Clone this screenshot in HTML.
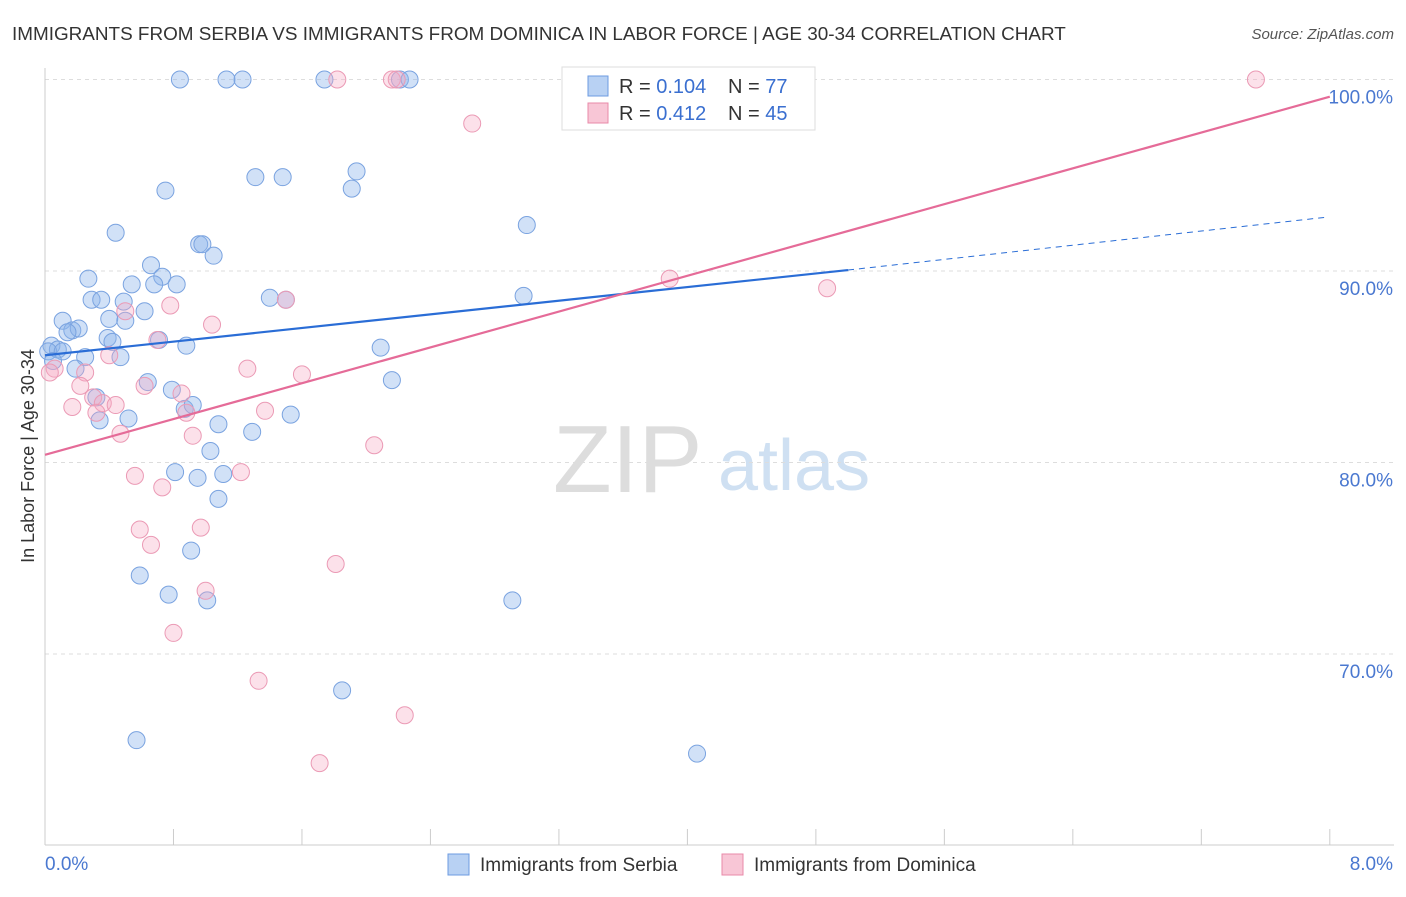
<!DOCTYPE html>
<html><head><meta charset="utf-8">
<style>
body{margin:0;background:#fff;font-family:"Liberation Sans",sans-serif;}
svg text{font-family:"Liberation Sans",sans-serif;}
</style></head>
<body>
<svg id="chart" width="1406" height="892" viewBox="0 0 1406 892">
<text x="12" y="40" font-size="18.9" fill="#333">IMMIGRANTS FROM SERBIA VS IMMIGRANTS FROM DOMINICA IN LABOR FORCE | AGE 30-34 CORRELATION CHART</text>
<text x="1394" y="39" font-size="15" fill="#555" font-style="italic" text-anchor="end">Source: ZipAtlas.com</text>
<g>
<text x="553" y="492" font-size="96" fill="#ddd" font-family="Liberation Serif">ZIP</text>
<text x="718" y="490" font-size="72" fill="#cfe0f2">atlas</text>
</g>
<g id="grid"></g>
<g id="axes"></g>
<g id="pts"></g>
<g id="trend"></g>
<text transform="translate(34,456) rotate(-90)" font-size="18" fill="#333" text-anchor="middle">In Labor Force | Age 30-34</text>
<g>
<rect x="562" y="67" width="253" height="63" fill="#fff" stroke="#ddd"/>
<rect x="588" y="76" width="20" height="20" fill="#b8d1f3" stroke="#6d9be0"/>
<rect x="588" y="103" width="20" height="20" fill="#f8c6d6" stroke="#e88aa8"/>
<text x="619" y="93" font-size="20" fill="#333">R = <tspan fill="#3a6fd0">0.104</tspan></text>
<text x="728" y="93" font-size="20" fill="#333">N = <tspan fill="#3a6fd0">77</tspan></text>
<text x="619" y="120" font-size="20" fill="#333">R = <tspan fill="#3a6fd0">0.412</tspan></text>
<text x="728" y="120" font-size="20" fill="#333">N = <tspan fill="#3a6fd0">45</tspan></text>
</g>
<g>
<rect x="448" y="854" width="21" height="21" fill="#b8d1f3" stroke="#6d9be0"/>
<text x="480" y="871" font-size="19" fill="#333">Immigrants from Serbia</text>
<rect x="722" y="854" width="21" height="21" fill="#f8c6d6" stroke="#e88aa8"/>
<text x="754" y="871" font-size="19" fill="#333">Immigrants from Dominica</text>
</g>
</svg>
<script>
const serbiaX=[0.84,1.13,1.23,1.74,2.21,2.27,3.63,3.58,0.75,1.31,1.48,1.94,1.91,0.44,3.00,0.96,0.98,1.05,0.66,0.73,0.27,0.54,0.68,0.82,0.29,0.35,0.49,0.62,0.40,0.50,1.40,1.50,2.98,0.11,0.17,0.21,0.14,0.39,0.42,0.71,0.88,2.09,0.04,0.08,0.02,0.11,0.25,0.47,0.05,0.19,0.64,0.79,2.16,0.32,0.87,0.92,1.08,1.53,0.34,0.52,1.29,1.03,0.81,0.95,1.11,1.08,0.91,0.59,0.77,1.01,2.91,1.85,0.57,4.06];
const serbiaY=[100,100,100,100,100,100,99.9,98.9,94.2,94.9,94.9,95.2,94.3,92.0,92.4,91.4,91.4,90.8,90.3,89.7,89.6,89.3,89.3,89.3,88.5,88.5,88.4,87.9,87.5,87.4,88.6,88.5,88.7,87.4,86.9,87.0,86.8,86.5,86.3,86.4,86.1,86.0,86.1,85.9,85.8,85.8,85.5,85.5,85.3,84.9,84.2,83.8,84.3,83.4,82.8,83.0,82.0,82.5,82.2,82.3,81.6,80.6,79.5,79.2,79.4,78.1,75.4,74.1,73.1,72.8,72.8,68.1,65.5,64.8];
const dominicaX=[1.82,2.16,2.19,4.18,7.54,2.66,3.89,4.87,1.50,0.78,0.50,0.70,1.04,0.40,0.06,0.03,0.25,0.22,0.62,0.85,1.26,1.60,0.30,0.36,0.44,0.17,0.32,0.88,1.37,0.47,0.92,2.05,0.56,1.22,0.73,0.59,0.66,0.97,1.81,1.00,0.80,1.33,2.24,1.71];
const dominicaY=[100,100,100,100,100,97.7,89.6,89.1,88.5,88.2,87.9,86.4,87.2,85.6,84.9,84.7,84.7,84.0,84.0,83.6,84.9,84.6,83.4,83.1,83.0,82.9,82.6,82.6,82.7,81.5,81.4,80.9,79.3,79.5,78.7,76.5,75.7,76.6,74.7,73.3,71.1,68.6,66.8,64.3];
const serbiaTrend=[[0,85.6],[5.0,90.05],[7.97,92.8]];
const dominicaTrend=[[0,80.4],[8,99.1]];
const yTicks=[100,90,80,70];
const yTickLabels=["100.0%","90.0%","80.0%","70.0%"];
const xTickVals=[0,0.8,1.6,2.4,3.2,4.0,4.8,5.6,6.4,7.2,8.0];

const NS="http://www.w3.org/2000/svg";
const sx=v=>45+v*160.6;
const sy=v=>79.5+(100-v)*19.15;
function mk(p,tag,at){const e=document.createElementNS(NS,tag);for(const k in at)e.setAttribute(k,at[k]);p.appendChild(e);return e;}
const grid=document.getElementById('grid'),axes=document.getElementById('axes'),pts=document.getElementById('pts'),trend=document.getElementById('trend');
yTicks.forEach((t,i)=>{
  const l=mk(grid,'line',{x1:45,x2:1394,y1:sy(t),y2:sy(t),stroke:'#ddd','stroke-dasharray':'4,4'});
  
  
  const tx=mk(axes,'text',{x:1393,y:sy(t)+24,'font-size':19,fill:'#4a78d0','text-anchor':'end'});
  tx.textContent=yTickLabels[i];
  
  
});
const ax=mk(axes,'line',{x1:45,x2:45,y1:68,y2:845,stroke:'#ccc'});


const bx=mk(axes,'line',{x1:45,x2:1394,y1:845,y2:845,stroke:'#ccc'});


xTickVals.forEach(v=>{
  const t=mk(axes,'line',{x1:sx(v),x2:sx(v),y1:829,y2:845,stroke:'#ccc'});
  
  
});
const xl=mk(axes,'text',{x:45,y:870,'font-size':19,fill:'#4a78d0'});xl.textContent='0.0%';


const xr=mk(axes,'text',{x:1393,y:870,'font-size':19,fill:'#4a78d0','text-anchor':'end'});xr.textContent='8.0%';



function dots(X,Y,fill,stroke,name){
  X.forEach((x,i)=>{
    const c=mk(pts,'circle',{cx:sx(x),cy:sy(Y[i]),r:8.5,fill:fill,stroke:stroke,'stroke-width':1});
    
    
  });
}
dots(serbiaX,serbiaY,'rgba(140,180,235,0.4)','#7aa3e0','serbia-point');
dots(dominicaX,dominicaY,'rgba(245,170,195,0.35)','#eb9ab5','dominica-point');

const s1=mk(trend,'line',{x1:sx(serbiaTrend[0][0]),y1:sy(serbiaTrend[0][1]),x2:sx(serbiaTrend[1][0]),y2:sy(serbiaTrend[1][1]),stroke:'#2a6dd6','stroke-width':2.2});


const s2=mk(trend,'line',{x1:sx(serbiaTrend[1][0]),y1:sy(serbiaTrend[1][1]),x2:sx(serbiaTrend[2][0]),y2:sy(serbiaTrend[2][1]),stroke:'#2a6dd6','stroke-width':1,'stroke-dasharray':'6,5'});


const d1=mk(trend,'line',{x1:sx(dominicaTrend[0][0]),y1:sy(dominicaTrend[0][1]),x2:sx(dominicaTrend[1][0]),y2:sy(dominicaTrend[1][1]),stroke:'#e56b98','stroke-width':2.2});


</script>
</body></html>
